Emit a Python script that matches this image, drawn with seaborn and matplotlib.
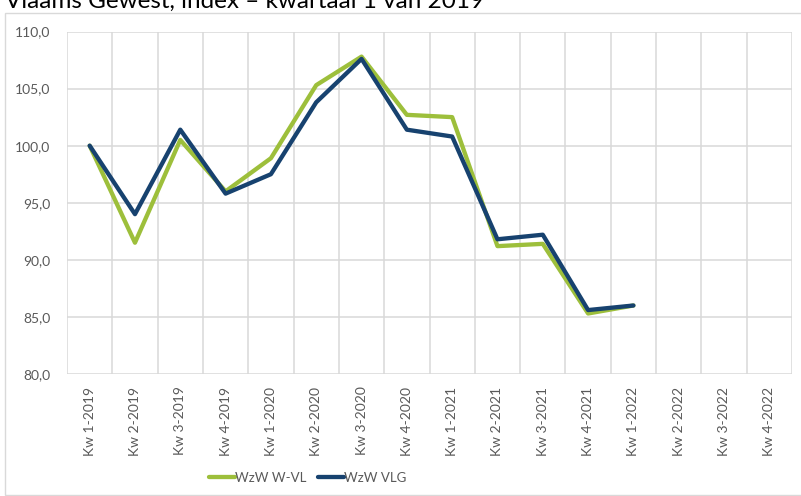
import numpy as np
import pandas as pd
import seaborn as sns
import matplotlib.pyplot as plt
from matplotlib.patches import Rectangle

# Quarter labels
categories = ["Kw 1-2019", "Kw 2-2019", "Kw 3-2019", "Kw 4-2019",
              "Kw 1-2020", "Kw 2-2020", "Kw 3-2020", "Kw 4-2020",
              "Kw 1-2021", "Kw 2-2021", "Kw 3-2021", "Kw 4-2021",
              "Kw 1-2022", "Kw 2-2022", "Kw 3-2022", "Kw 4-2022"]

# Index values (Kw 1-2019 = 100), no data yet after Kw 1-2022
wzw_wvl = [100.0, 91.5, 100.5, 96.0, 98.9, 105.3, 107.8, 102.7,
           102.5, 91.2, 91.4, 85.3, 86.0, np.nan, np.nan, np.nan]
wzw_vlg = [100.0, 94.0, 101.4, 95.8, 97.5, 103.8, 107.6, 101.4,
           100.8, 91.8, 92.2, 85.6, 86.0, np.nan, np.nan, np.nan]

series_names = ["WzW W-VL", "WzW VLG"]
colors = ["#9dbf3b", "#17426f"]

df = pd.DataFrame({
    "pos": list(range(len(categories))) * 2,
    "index": wzw_wvl + wzw_vlg,
    "reeks": [series_names[0]] * len(categories) + [series_names[1]] * len(categories),
})

sns.set_style("white")
plt.rcParams["font.family"] = ["Lato", "DejaVu Sans"]

fig = plt.figure(figsize=(8.01, 4.96), dpi=100)
ax = fig.add_axes([67 / 801, 1 - 374 / 496, 725 / 801, (374 - 31.5) / 496])

sns.lineplot(data=df, x="pos", y="index", hue="reeks", palette=colors,
             linewidth=3.1, ax=ax, legend=False, sort=False)

# grid like Excel: vertical lines between categories
ax.set_xlim(-0.5, len(categories) - 0.5)
ax.set_ylim(80, 110)
for b in np.arange(-0.5, len(categories), 1.0):
    ax.axvline(b, color="#d9d9d9", lw=1.1, zorder=0)
for yv in range(80, 111, 5):
    ax.axhline(yv, color="#d9d9d9", lw=1.1, zorder=0)
for s in ax.spines.values():
    s.set_visible(False)

ax.set_xticks(range(len(categories)))
ax.set_xticklabels(categories, rotation=90, fontsize=10, color="#595959")
ax.set_yticks(range(80, 111, 5))
ax.set_yticklabels([f"{v},0" for v in range(80, 111, 5)], fontsize=10, color="#595959")
ax.tick_params(length=0, pad=9)
ax.tick_params(axis="y", pad=12)
ax.set_xlabel("")
ax.set_ylabel("")

# legend
handles = [plt.Line2D([], [], color=c, lw=3.1) for c in colors]
fig.legend(handles, series_names, loc="center", bbox_to_anchor=(308 / 801, 1 - 478 / 496),
           ncol=2, frameon=False, fontsize=9.5, handlelength=1.9, handletextpad=0.05,
           columnspacing=0.9, labelcolor="#595959")

# chart border and cut-off title
fig.patches.append(Rectangle((5 / 801, 1 / 496), 1.0, 482 / 496, transform=fig.transFigure,
                             fill=False, edgecolor="#d9d9d9", lw=1.0))
fig.text(5 / 801, 1 - 8 / 496, "Vlaams Gewest, index – kwartaal 1 van 2019",
         fontsize=17.5, color="#000000", va="baseline", ha="left")

fig.savefig("out.png", dpi=100)
